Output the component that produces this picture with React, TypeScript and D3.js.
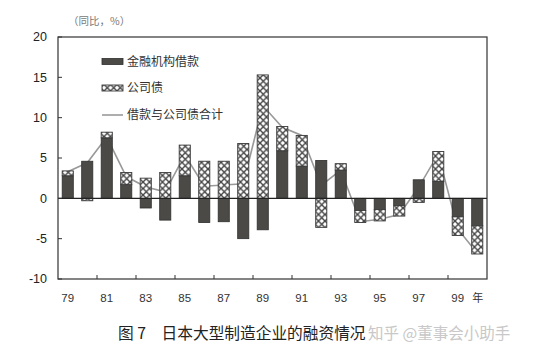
import React from "react";
import * as d3 from "d3";

const years = ["79","80","81","82","83","84","85","86","87","88","89","90","91","92","93","94","95","96","97","98","99","00"];
const loans = [2.8, 4.6, 7.5, 1.7, -1.2, -2.7, 2.8, -3.0, -2.9, -5.0, -3.9, 5.9, 4.0, 4.7, 3.5, -1.5, -1.4, -0.9, 2.3, 2.1, -2.3, -3.4];
const bonds = [0.6, -0.3, 0.7, 1.5, 2.5, 3.2, 3.8, 4.6, 4.6, 6.8, 15.3, 3.0, 3.8, -3.6, 0.8, -1.5, -1.4, -1.3, -0.5, 3.7, -2.3, -3.5];
const totals = [3.3, 4.4, 7.6, 2.7, 1.4, 0.8, 5.4, 1.5, 1.65, 1.8, 11.5, 8.8, 7.8, 1.6, 3.5, -2.9, -2.6, -2.0, 1.4, 5.5, -3.8, -6.8];
const yTicks = [20, 15, 10, 5, 0, -5, -10];
const xLabels = ["79","81","83","85","87","89","91","93","95","97","99"];
const legendLabels = ["金融机构借款", "公司债", "借款与公司债合计"];
const unitLabel = "（同比，%）";
const caption = "图 7　日本大型制造企业的融资情况";
const watermark = "知乎 @董事会小助手";

const W = 554, H = 353;
const L = 58, R = 487, T = 37, B = 279;

export default function App() {
  const x = d3.scaleBand<string>().domain(years).range([L, R]).paddingInner(0.43).paddingOuter(0.215);
  const y = d3.scaleLinear().domain([-10, 20]).range([B, T]);
  const step = x.step();
  const bw = x.bandwidth();
  const cx = (i: number) => (x(years[i]) as number) + bw / 2;
  const line = d3.line<number>().x((_, i) => cx(i)).y((d) => y(d));

  const bars: JSX.Element[] = [];
  years.forEach((yr, i) => {
    const lv = loans[i], bv = bonds[i];
    const x0 = x(yr) as number;
    bars.push(
      <rect key={"l" + i} x={x0} width={bw} y={Math.min(y(0), y(lv))} height={Math.abs(y(lv) - y(0))}
        fill="#4b4a46" stroke="#2e2e2e" strokeWidth={0.8} />
    );
    const base = Math.sign(bv) === Math.sign(lv) ? lv : 0;
    const top = base + bv;
    bars.push(
      <rect key={"b" + i} x={x0} width={bw} y={Math.min(y(base), y(top))} height={Math.abs(y(top) - y(base))}
        fill="url(#hatch)" stroke="#3a3a3a" strokeWidth={0.9} />
    );
  });

  const tickIdx = d3.range(2, years.length, 2);

  return (
    <svg width={W} height={H} style={{ position: "absolute", left: 0, top: 0, background: "#fff" }}
      fontFamily="'Liberation Sans', Arial, sans-serif">
      <defs>
        <pattern id="hatch" patternUnits="userSpaceOnUse" width={6.5} height={6.5}>
          <rect width={6.5} height={6.5} fill="#fff" />
          <path d="M0,0 L6.5,6.5 M6.5,0 L0,6.5" stroke="#444" strokeWidth={1.4} />
        </pattern>
      </defs>
      <rect width={W} height={H} fill="#fff" />
      <text x={68} y={25} fontSize={10.5} fill="#777" fontFamily="'Noto Sans CJK SC', sans-serif">{unitLabel}</text>

      <path d={line(totals) || ""} fill="none" stroke="#999" strokeWidth={1.6} />
      {bars}

      <line x1={L} x2={R} y1={y(0)} y2={y(0)} stroke="#222" strokeWidth={1.2} />
      <rect x={L} y={T} width={R - L} height={B - T} fill="none" stroke="#333" strokeWidth={1.2} />

      {yTicks.map((t) => (
        <g key={"yt" + t}>
          <line x1={L} x2={L + 4} y1={y(t)} y2={y(t)} stroke="#333" />
          <text x={L - 11} y={y(t)} dy="0.35em" textAnchor="end" fontSize={12.5} fill="#222">{t}</text>
        </g>
      ))}
      {tickIdx.map((k) => (
        <line key={"xt" + k} x1={L + k * step} x2={L + k * step} y1={B} y2={B - 4} stroke="#333" />
      ))}
      {xLabels.map((lb) => (
        <text key={"xl" + lb} x={cx(years.indexOf(lb))} y={302} textAnchor="middle" fontSize={11.5} fill="#333">{lb}</text>
      ))}
      <text x={cx(years.indexOf("99")) + 20} y={302} textAnchor="middle" fontSize={11} fill="#333"
        fontFamily="'Noto Sans CJK SC', sans-serif">年</text>

      <g fontFamily="'Noto Sans CJK SC', sans-serif" fontSize={12} fill="#333">
        <rect x={102} y={58.5} width={21} height={6} fill="#4b4a46" stroke="#2e2e2e" strokeWidth={0.8} />
        <text x={127} y={62} dy="0.35em">{legendLabels[0]}</text>
        <rect x={102} y={85} width={21} height={6} fill="url(#hatch)" stroke="#3a3a3a" strokeWidth={0.9} />
        <text x={127} y={88} dy="0.35em">{legendLabels[1]}</text>
        <line x1={102} x2={123} y1={115} y2={115} stroke="#777" strokeWidth={1.2} />
        <text x={127} y={115} dy="0.35em">{legendLabels[2]}</text>
      </g>

      <text x={118} y={339} fontSize={15.7} fill="#222" fontFamily="'Noto Sans CJK SC', sans-serif">{caption}</text>
      <text x={368} y={339} fontSize={15.5} fill="#c8c8c8" fontFamily="'Noto Sans CJK SC', sans-serif">{watermark}</text>
    </svg>
  );
}
